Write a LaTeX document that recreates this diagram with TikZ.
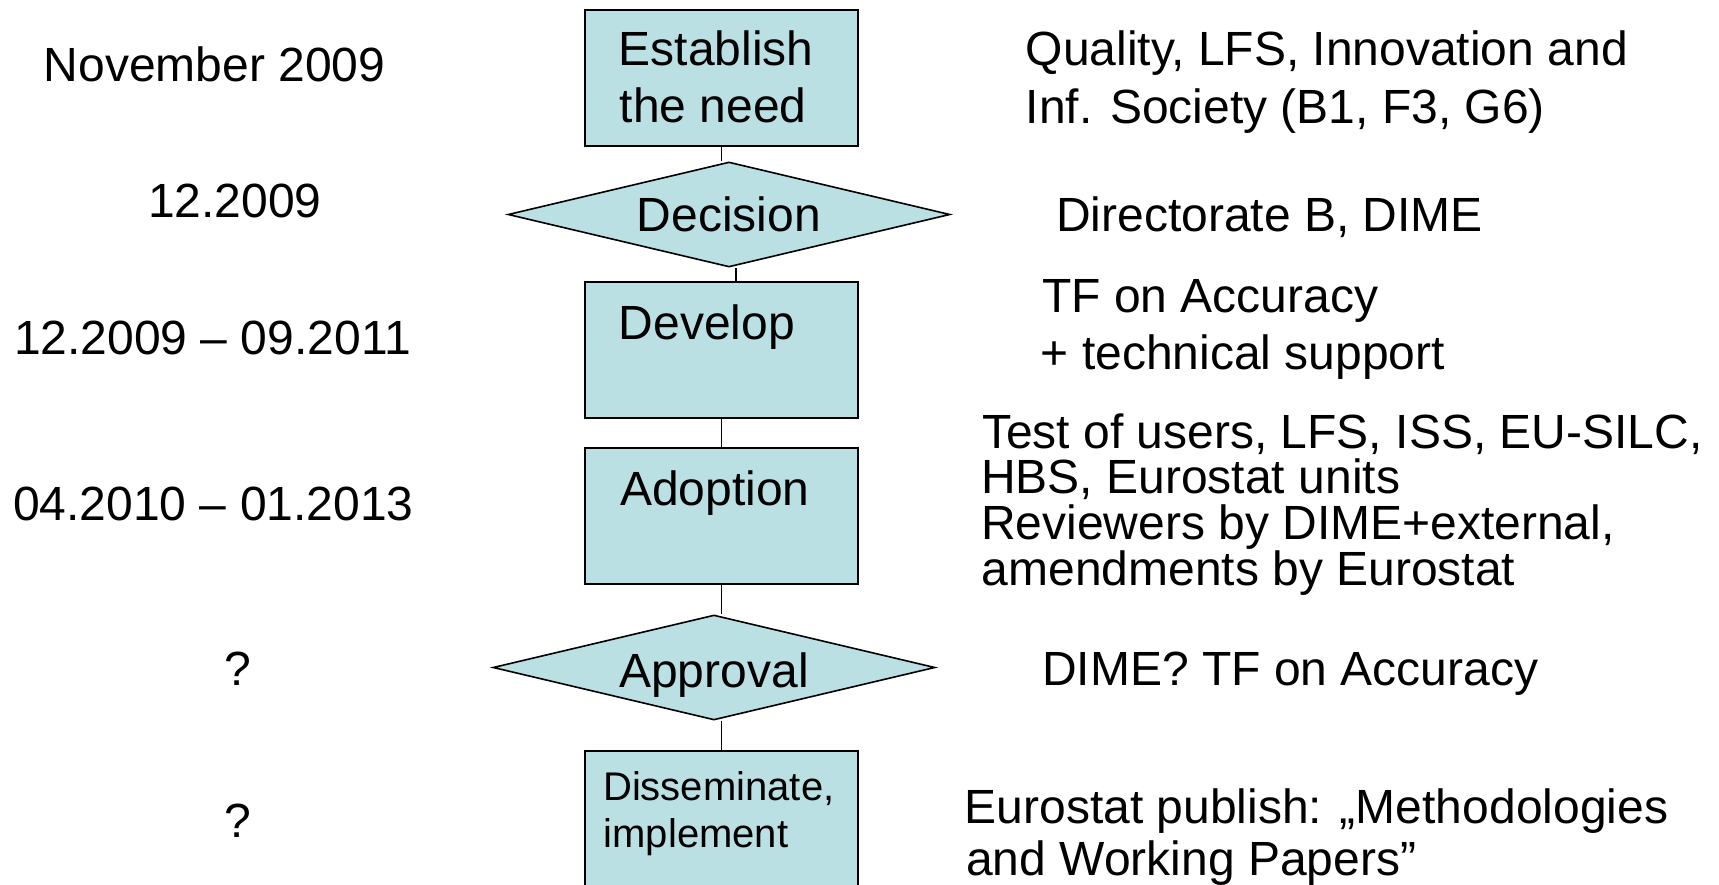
\documentclass[tikz,border=0pt]{standalone}
\usepackage{fontspec}
\setmainfont{Liberation Sans}
\usetikzlibrary{shapes.geometric}
\definecolor{boxfill}{RGB}{187,224,227}
\begin{document}
\begin{tikzpicture}[x=1pt,y=-1pt,
  stepbox/.style={draw=black, line width=1.9pt, fill=boxfill, rectangle,
    minimum width=273pt, minimum height=136pt, inner sep=0pt},
  decbox/.style={draw=black, line width=1.6pt, fill=boxfill, diamond, aspect=4.21,
    minimum width=442pt, minimum height=105pt, inner sep=0pt,
    font=\fontsize{48}{56}\selectfont, text depth=0pt},
  txt/.style={anchor=base west, inner sep=0pt, font=\fontsize{48}{56}\selectfont},
  ctxt/.style={anchor=base, inner sep=0pt, font=\fontsize{48}{56}\selectfont},
  smalltxt/.style={anchor=base west, inner sep=0pt, font=\fontsize{40}{47}\selectfont},
  link/.style={draw=black, line width=1.8pt}]
\useasboundingbox (0,0) rectangle (1719,885);
\clip (0,0) rectangle (1719,885);
\fill[white] (0,0) rectangle (1719,885);

% flow shapes
\node[stepbox] (est) at (721.5,78) {};
\node[decbox, text height=35pt] (dec) at (729,214.5) {Decision};
\node[stepbox] (dev) at (721.5,350) {};
\node[stepbox] (ado) at (721.5,516) {};
\node[decbox, text height=39pt] (app) at (714,667.5) {Approval};
\node[stepbox] (dis) at (721.5,819) {};

% connectors
\draw[link] (est.south) -- (est.south |- dec.north);
\draw[link] ([xshift=7pt]dec.south) -- ([xshift=7pt]dec.south |- dev.north);
\draw[link] (dev.south) -- (ado.north);
\draw[link] (ado.south) -- (ado.south |- app.north);
\draw[link] (dis.north |- app.south) -- (dis.north);

% box texts
\node[txt] (estA) at (618.5,66) {Establish};
\node[txt] (estB) at (619.5,123) {the need};
\node[txt] (devT) at (618.5,339) {Develop};
\node[txt] (adoT) at (620,505) {Adoption};
\node[smalltxt] (disA) at (603,800) {Disseminate,};
\node[smalltxt] (disB) at (603.5,847) {implement};

% left column: dates
\node[txt] (d1) at (43.5,82) {November 2009};
\node[txt] (d2) at (148,218) {12.2009};
\node[txt] (d3) at (14,354) {12.2009 – 09.2011};
\node[txt] (d4) at (13,520) {04.2010 – 01.2013};
\node[ctxt] (d5) at (237.5,685) {?};
\node[ctxt] (d6) at (237.5,837) {?};

% right column: actors
\node[txt] (r1a) at (1025.5,66) {Quality, LFS, Innovation and};
\node[txt] (r1b) at (1025.5,124) {Inf. Society (B1, F3, G6)};
\node[txt] (r2) at (1056,232) {Directorate B, DIME};
\node[txt] (r3a) at (1042,313) {TF on Accuracy};
\node[txt] (r3b) at (1040.5,370) {+ technical support};
\node[txt] (r4a) at (982,448) {Test of users, LFS, ISS, EU-SILC,};
\node[txt] (r4b) at (981,493) {HBS, Eurostat units};
\node[txt] (r4c) at (981,539) {Reviewers by DIME+external,};
\node[txt] (r4d) at (981.5,585) {amendments by Eurostat};
\node[txt] (r5) at (1042,685) {DIME? TF on Accuracy};
\node[txt] (r6a) at (964.5,823) {Eurostat publish: „Methodologies};
\node[txt] (r6b) at (966,875) {and Working Papers”};
\end{tikzpicture}
\end{document}
